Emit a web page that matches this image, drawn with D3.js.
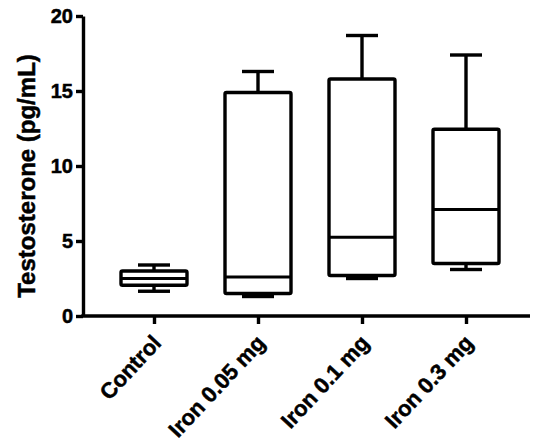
<!DOCTYPE html>
<html lang="en">
<head>
    <meta charset="utf-8">
    <title>Testosterone box plot</title>
    <script src="https://d3js.org/d3.v7.min.js"></script>
    <style>
        body { margin: 0; background: #fff; }
        text { font-family: "Liberation Sans", Arial, sans-serif; font-weight: bold; fill: #000; stroke: #000; stroke-width: 0.5px; }
    </style>
</head>
<body>
    <svg id="chart" width="533" height="446"></svg>
    <script>
        // data
        var groups = ["Control", "Iron 0.05 mg", "Iron 0.1 mg", "Iron 0.3 mg"];
        var mins    = [1.65, 1.3, 2.5, 3.1];
        var q1s     = [2.05, 1.5, 2.7, 3.5];
        var medians = [2.5, 2.6, 5.25, 7.1];
        var q3s     = [3.0, 14.9, 15.8, 12.45];
        var maxs    = [3.4, 16.3, 18.7, 17.4];
        var yTicks  = [0, 5, 10, 15, 20];

        var svg = d3.select("#chart"),
            margin = {top: 16, right: 3, bottom: 130, left: 83},
            width = 533 - margin.left - margin.right,
            height = 446 - margin.top - margin.bottom;

        var boxes = groups.map(function(g, i) {
            return {group: g, min: mins[i], q1: q1s[i], median: medians[i], q3: q3s[i], max: maxs[i]};
        });

        var x = d3.scalePoint()
            .domain(groups)
            .range([71, 383]);

        var y = d3.scaleLinear()
            .domain([0, 20])
            .range([height, 0]);

        var g = svg.append("g")
            .attr("transform", "translate(" + margin.left + "," + margin.top + ")");

        var boxW = 66, capW = 32, lw = 3.4;

        // y axis
        var yAxis = g.append("g")
            .call(d3.axisLeft(y).tickValues(yTicks).tickSize(7).tickSizeOuter(0).tickPadding(3));
        yAxis.select(".domain").attr("stroke-width", lw);
        yAxis.selectAll(".tick line").attr("stroke-width", lw);
        yAxis.selectAll("text").style("font-size", "20px");

        // x axis
        var xAxis = g.append("g")
            .attr("transform", "translate(0," + height + ")")
            .call(d3.axisBottom(x).tickSize(8).tickSizeOuter(0));
        xAxis.select(".domain").attr("d", "M-1.7,0H" + width).attr("stroke-width", lw);
        xAxis.selectAll(".tick line").attr("stroke-width", lw);
        xAxis.selectAll("text")
            .style("font-size", "22px")
            .style("text-anchor", "end")
            .attr("y", 0)
            .attr("dy", 0)
            .attr("transform", "translate(8,28) rotate(-47)");

        g.append("text")
            .attr("transform", "translate(" + (35 - margin.left) + "," + (height / 2 + 10) + ") rotate(-90)")
            .attr("text-anchor", "middle")
            .style("font-size", "24px")
            .text("Testosterone (pg/mL)");

        var bg = g.selectAll(".box")
            .data(boxes)
            .enter().append("g")
            .attr("class", "box")
            .attr("fill", "none")
            .attr("stroke", "#000")
            .attr("stroke-width", lw);

        // whiskers
        bg.append("line")
            .attr("x1", function(d) { return x(d.group); })
            .attr("x2", function(d) { return x(d.group); })
            .attr("y1", function(d) { return y(d.max); })
            .attr("y2", function(d) { return y(d.q3); });
        bg.append("line")
            .attr("x1", function(d) { return x(d.group); })
            .attr("x2", function(d) { return x(d.group); })
            .attr("y1", function(d) { return y(d.q1); })
            .attr("y2", function(d) { return y(d.min); });
        bg.append("line")
            .attr("x1", function(d) { return x(d.group) - capW / 2; })
            .attr("x2", function(d) { return x(d.group) + capW / 2; })
            .attr("y1", function(d) { return y(d.max); })
            .attr("y2", function(d) { return y(d.max); });
        bg.append("line")
            .attr("x1", function(d) { return x(d.group) - capW / 2; })
            .attr("x2", function(d) { return x(d.group) + capW / 2; })
            .attr("y1", function(d) { return y(d.min); })
            .attr("y2", function(d) { return y(d.min); });

        // box
        bg.append("rect")
            .attr("x", function(d) { return x(d.group) - boxW / 2; })
            .attr("width", boxW)
            .attr("y", function(d) { return y(d.q3); })
            .attr("height", function(d) { return y(d.q1) - y(d.q3); })
            .attr("fill", "#fff")
            .attr("rx", 1.5)
            .attr("stroke-linejoin", "round");

        // median
        bg.append("line")
            .attr("x1", function(d) { return x(d.group) - boxW / 2; })
            .attr("x2", function(d) { return x(d.group) + boxW / 2; })
            .attr("y1", function(d) { return y(d.median); })
            .attr("y2", function(d) { return y(d.median); })
            .attr("stroke-width", 2.8);
    </script>
</body>
</html>
